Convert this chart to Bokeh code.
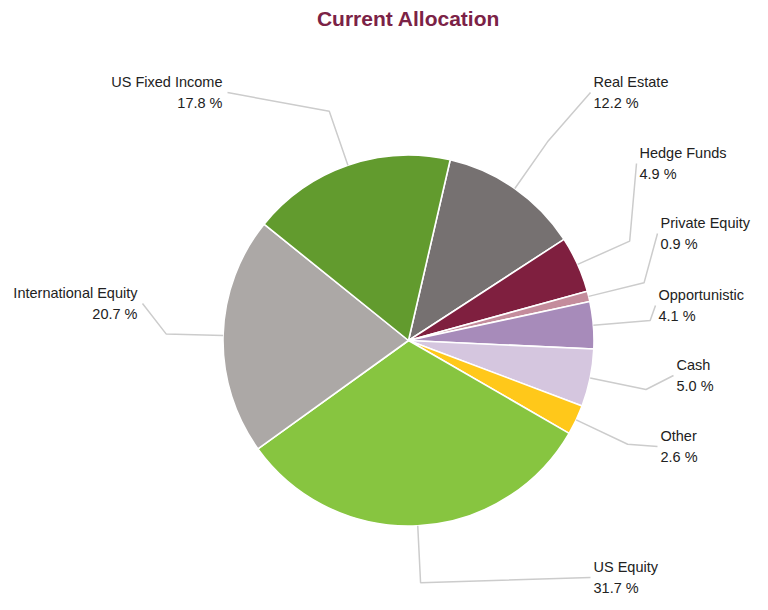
import math
from bokeh.plotting import figure
from bokeh.models import ColumnDataSource, Range1d
from bokeh.core.properties import value
from bokeh.embed import file_html
from bokeh.resources import INLINE

# ---------------- data ----------------
categories = ["Real Estate", "Hedge Funds", "Private Equity", "Opportunistic",
              "Cash", "Other", "US Equity", "International Equity", "US Fixed Income"]
percents = [12.2, 4.9, 0.9, 4.1, 5.0, 2.6, 31.7, 20.7, 17.8]
colors = ["#767171", "#7F1F3F", "#C48C9C", "#A78BBA", "#D5C6DF",
          "#FFC81A", "#87C540", "#ACA8A6", "#629B2E"]
title_text = "Current Allocation"

# ---------------- layout ----------------
W, H = 752, 594
CX, CY = 408, 254          # pie centre (px, y up)
R = 185.5                  # pie radius (px)
START = 13.0               # first slice starts this many degrees clockwise from 12 o'clock
ELBOW = 57                 # radial length of the connector's first segment
# label anchor offsets from the centre, screen px (x right, y down)
label_offsets = [(182, -248), (228, -177), (249, -107), (247, -35), (265, 35),
                 (249, 106), (182, 237), (-266, -37), (-181, -248)]

FONT = "Liberation Sans"
TEXT_COLOR = "#222222"
LINE_COLOR = "#CCCCCC"

p = figure(width=W, height=H, output_backend="svg", toolbar_location=None,
           x_range=Range1d(0, W), y_range=Range1d(0, H),
           min_border=0, outline_line_color=None)
p.axis.visible = False
p.grid.visible = False
p.background_fill_color = "white"
p.border_fill_color = "white"

total = sum(percents)
starts, ends, mids = [], [], []
cum = 0.0
for v in percents:
    a = START + 360.0 * cum / total
    cum += v
    b = START + 360.0 * cum / total
    starts.append(math.radians(90 - b))
    ends.append(math.radians(90 - a))
    mids.append((a + b) / 2.0)

src = ColumnDataSource(dict(x=[CX] * len(percents), y=[CY] * len(percents),
                            start=starts, end=ends, color=colors, name=categories))
p.wedge(x="x", y="y", radius=R, start_angle="start", end_angle="end",
        direction="anticlock", fill_color="color", line_color="white",
        line_width=1.6, source=src)

# connectors and labels
xs, ys = [], []
rx, ry1, ry2, rname, rpct = [], [], [], [], []
lx, ly1, ly2, lname, lpct = [], [], [], [], []
for cat, v, m, (dx, dy) in zip(categories, percents, mids, label_offsets):
    t = math.radians(m)
    ex, ey = CX + R * math.sin(t), CY + R * math.cos(t)
    bx, by = CX + (R + ELBOW) * math.sin(t), CY + (R + ELBOW) * math.cos(t)
    ax, ay = CX + dx, CY - dy
    xs.append([ex, bx, ax])
    ys.append([ey, by, ay])
    pct = f"{v:.1f} %"
    if dx >= 0:
        rx.append(ax + 3); ry1.append(ay + 11); ry2.append(ay - 10)
        rname.append(cat); rpct.append(pct)
    else:
        lx.append(ax - 5); ly1.append(ay + 11); ly2.append(ay - 10)
        lname.append(cat); lpct.append(pct)

p.multi_line(xs=xs, ys=ys, line_color=LINE_COLOR, line_width=1.5)

common = dict(text_font=value(FONT), text_font_size="14.5px",
              text_color=TEXT_COLOR, text_baseline="middle")
p.text(x=rx, y=ry1, text=rname, text_align="left", **common)
p.text(x=rx, y=ry2, text=rpct, text_align="left", **common)
p.text(x=lx, y=ly1, text=lname, text_align="right", **common)
p.text(x=lx, y=ly2, text=lpct, text_align="right", **common)

p.text(x=[CX], y=[H - 18], text=[title_text], text_align="center",
       text_baseline="middle", text_font=value(FONT), text_font_size="21px",
       text_font_style="bold", text_color="#7B2246")

open("out.html", "w").write(file_html(p, INLINE))
